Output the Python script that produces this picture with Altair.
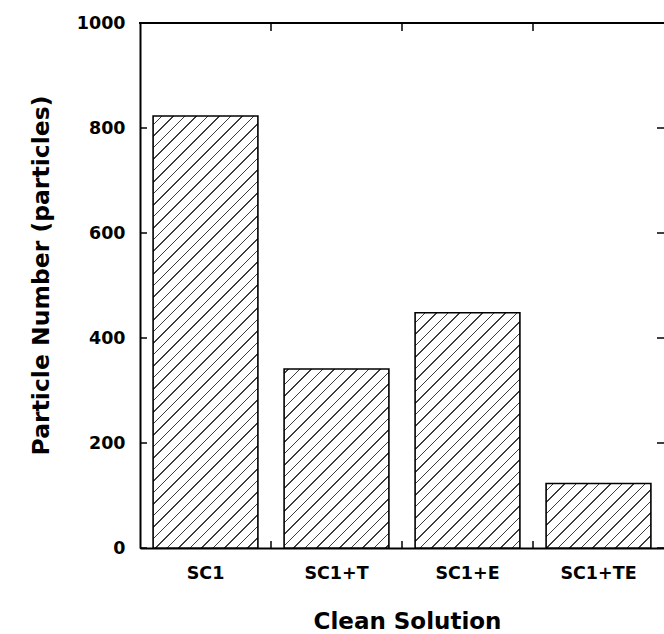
import math
import altair as alt
import pandas as pd

# ---- data ----
solutions = ["SC1", "SC1+T", "SC1+E", "SC1+TE"]
particles = [823, 341, 448, 123]
y_ticks = [0, 200, 400, 600, 800, 1000]

# ---- layout / style ----
W, H = 524, 525
Y_MAX = 1000
P_INNER, P_OUTER = 0.2, 0.1
step = W / (len(solutions) - P_INNER + 2 * P_OUTER)
bar_w = step * (1 - P_INNER)
TICK = 7
FONT = "DejaVu Sans"

HATCH_S = 11.5   # spacing of hatch lines (px, along x)
HATCH_T = 1.8    # thickness in x+y units
HATCH_C = "#3c3c3c"


def hatch_fill(i, v):
    """45-degree '/' hatch as a linear gradient with hard stops."""
    bh = v / Y_MAX * H
    x0 = step * P_OUTER + i * step
    y0 = H - bh
    L = bar_w + bh
    stops = [{"offset": 0, "color": "white"}]
    k = math.ceil((x0 + y0 - HATCH_T / 2) / HATCH_S)
    while True:
        c = k * HATCH_S - (x0 + y0)
        if c - HATCH_T / 2 >= L:
            break
        a = max(0.0, (c - HATCH_T / 2) / L)
        b = min(1.0, (c + HATCH_T / 2) / L)
        stops += [
            {"offset": a, "color": "white"},
            {"offset": a, "color": HATCH_C},
            {"offset": b, "color": HATCH_C},
            {"offset": b, "color": "white"},
        ]
        k += 1
    stops.append({"offset": 1, "color": "white"})
    kk = L / (bar_w ** 2 + bh ** 2)
    return alt.LinearGradient(
        gradient="linear", x1=0, y1=0, x2=bar_w * kk, y2=bh * kk,
        stops=[alt.GradientStop(offset=s["offset"], color=s["color"]) for s in stops],
    )


df = pd.DataFrame({"solution": solutions, "particles": particles})
df_yt = pd.DataFrame({"particles": y_ticks})
df_xt = pd.DataFrame({"solution": solutions[1:]})

x_scale = alt.Scale(domain=solutions, paddingInner=P_INNER, paddingOuter=P_OUTER)
y_scale = alt.Scale(domain=[0, Y_MAX], nice=False)

x_axis = alt.Axis(
    title="Clean Solution", labelAngle=0, ticks=False, tickSize=0,
    domain=True, domainColor="black", domainWidth=2,
    labelFont=FONT, labelFontWeight="bold", labelFontSize=17.5, labelColor="black",
    labelPadding=30, labelBaseline="alphabetic",
    titleFont=FONT, titleFontWeight="bold", titleFontSize=23, titleColor="black",
    titleX=W / 2 + 5, titleY=80, titleAlign="center", titleBaseline="alphabetic",
    grid=False,
)
y_axis = alt.Axis(
    title="Particle Number (particles)", values=y_ticks, format="d",
    ticks=False, tickSize=0,
    domain=True, domainColor="black", domainWidth=2,
    labelFont=FONT, labelFontWeight="bold", labelFontSize=17.5, labelColor="black",
    labelPadding=15,
    titleFont=FONT, titleFontWeight="bold", titleFontSize=23.5, titleColor="black",
    titleAngle=270, titleX=-92, titleY=252, titleAlign="center", titleBaseline="alphabetic",
    grid=False,
)

X = alt.X("solution:N", sort=solutions, scale=x_scale, axis=x_axis)
X0 = alt.X("solution:N", sort=solutions, scale=x_scale, axis=x_axis, bandPosition=0)
Y = alt.Y("particles:Q", scale=y_scale, axis=y_axis)

layers = []
for i, (s, v) in enumerate(zip(solutions, particles)):
    layers.append(
        alt.Chart(df)
        .transform_filter(alt.datum.solution == s)
        .mark_bar(fill=hatch_fill(i, v), stroke="black", strokeWidth=1.6)
        .encode(x=X, y=Y)
    )

# inward tick marks on left and right
left_ticks = alt.Chart(df_yt).mark_rule(color="black", strokeWidth=1.5).encode(
    y=Y, x=alt.value(0), x2=alt.value(TICK),
)
right_ticks = alt.Chart(df_yt).mark_rule(color="black", strokeWidth=1.5).encode(
    y=Y, x=alt.value(W - TICK), x2=alt.value(W),
)
# inward tick marks at category boundaries, bottom and top
bottom_ticks = alt.Chart(df_xt).mark_rule(
    color="black", strokeWidth=1.5, xOffset=-step * P_OUTER
).encode(x=X0, y=alt.value(H - TICK), y2=alt.value(H))
top_ticks = alt.Chart(df_xt).mark_rule(
    color="black", strokeWidth=1.5, xOffset=-step * P_OUTER
).encode(x=X0, y=alt.value(0), y2=alt.value(TICK + 1))
top_frame = alt.Chart(df_xt).mark_rule(color="black", strokeWidth=2).encode(
    x=alt.value(-1), x2=alt.value(W), y=alt.value(0),
)

chart = (
    alt.layer(*layers, left_ticks, right_ticks, bottom_ticks, top_ticks, top_frame)
    .properties(
        width=W, height=H, autosize="none",
        padding={"left": 140, "top": 23, "right": 0, "bottom": 86},
        background="white",
    )
    .configure_view(stroke=None)
)

chart.save("out.html", embed_options={"renderer": "svg", "actions": False})
